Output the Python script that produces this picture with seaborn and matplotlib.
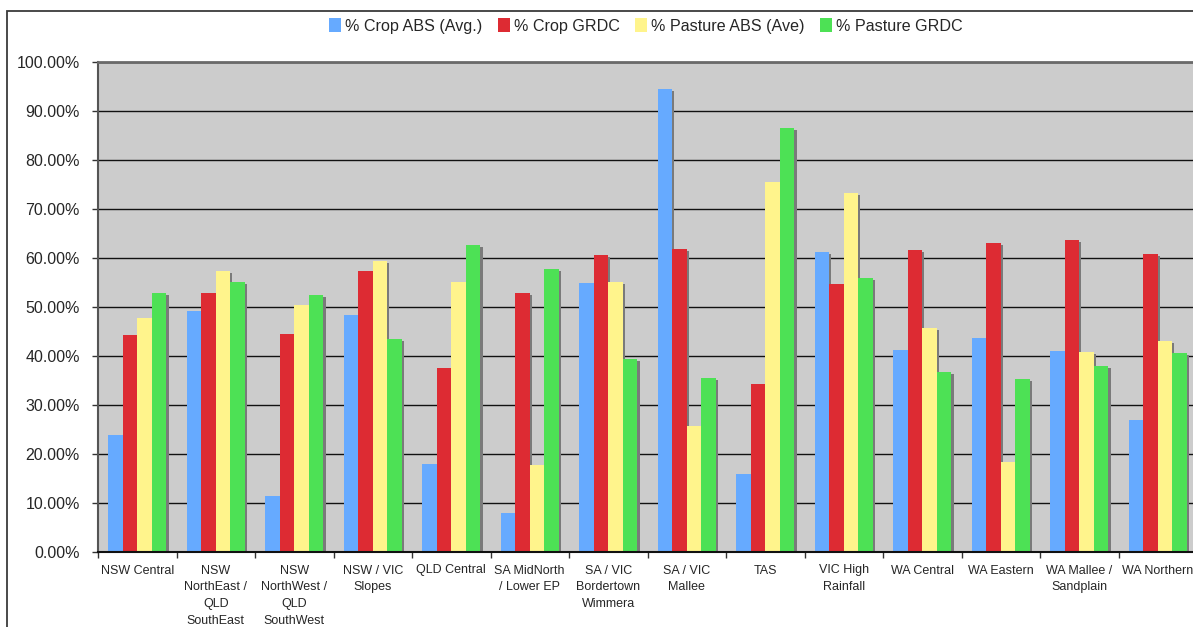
import matplotlib
matplotlib.use("Agg")
import matplotlib.pyplot as plt
import matplotlib.patheffects as pe
from matplotlib.patches import Rectangle
from matplotlib.ticker import FixedLocator, FuncFormatter
import numpy as np
import pandas as pd
import seaborn as sns

# Regions (category labels, wrapped as on the axis)
regions = [
    "NSW Central",
    "NSW\nNorthEast /\nQLD\nSouthEast",
    "NSW\nNorthWest /\nQLD\nSouthWest",
    "NSW / VIC\nSlopes",
    "QLD Central",
    "SA MidNorth\n/ Lower EP",
    "SA / VIC\nBordertown\nWimmera",
    "SA / VIC\nMallee",
    "TAS",
    "VIC High\nRainfall",
    "WA Central",
    "WA Eastern",
    "WA Mallee /\nSandplain",
    "WA Northern",
]

# Percentages per region
crop_abs = [23.8, 49.2, 11.4, 48.4, 18.0, 8.0, 54.8, 94.5, 15.9, 61.2, 41.2, 43.7, 41.0, 26.9]
crop_grdc = [44.3, 52.9, 44.5, 57.3, 37.6, 52.9, 60.6, 61.8, 34.3, 54.7, 61.6, 63.1, 63.7, 60.8]
pasture_abs = [47.8, 57.3, 50.4, 59.4, 55.1, 17.8, 55.1, 25.7, 75.5, 73.3, 45.7, 18.4, 40.8, 43.1]
pasture_grdc = [52.9, 55.1, 52.4, 43.5, 62.7, 57.8, 39.4, 35.5, 86.5, 55.9, 36.7, 35.3, 38.0, 40.6]

series_names = ["% Crop ABS (Avg.)", "% Crop GRDC", "% Pasture ABS (Ave)", "% Pasture GRDC"]
series_colors = ["#66AAFF", "#DD2B33", "#FFF48C", "#4DE155"]
y_ticks = [0, 10, 20, 30, 40, 50, 60, 70, 80, 90, 100]

df = pd.DataFrame({
    "region": regions * 4,
    "series": np.repeat(series_names, len(regions)),
    "value": crop_abs + crop_grdc + pasture_abs + pasture_grdc,
})

sns.set_style("white")
plt.rcParams["font.family"] = ["Liberation Sans", "DejaVu Sans"]

W, H = 1193, 627
fig = plt.figure(figsize=(W / 100, H / 100), dpi=100)
fig.patch.set_facecolor("white")

# chart frame
fig.patches.append(Rectangle((7 / W, -0.1), 1.2, 1 - 11 / H + 0.1,
                             transform=fig.transFigure, fill=False,
                             edgecolor="#3a3a3a", linewidth=1.3))

ax = fig.add_axes([98 / W, 1 - 552 / H, 1099 / W, 490 / H])
ax.set_facecolor("#CCCCCC")

sns.barplot(data=df, x="region", y="value", hue="series",
            hue_order=series_names, palette=series_colors,
            width=0.74, saturation=1, errorbar=None, linewidth=0, ax=ax)

for p in ax.patches:
    p.set_path_effects([pe.SimplePatchShadow(offset=(1.6, -1.4),
                                             shadow_rgbFace="#7a7a7a", alpha=1),
                        pe.Normal()])

ax.set_xlim(-0.5, len(regions) - 0.5)
ax.set_ylim(0, 100)
ax.set_xlabel("")
ax.set_ylabel("")

ax.yaxis.set_major_locator(FixedLocator(y_ticks))
ax.yaxis.set_major_formatter(FuncFormatter(lambda v, _: f"{v:.2f}%"))
ax.yaxis.grid(True, color="#111111", linewidth=1.0)
ax.set_axisbelow(True)

ax.tick_params(axis="y", direction="out", length=4, width=1, color="#333333",
               pad=9, labelsize=11.5, left=True)
ax.tick_params(axis="x", which="major", length=0, pad=9, labelsize=9)
ax.set_xticks(np.arange(-0.5, len(regions), 1.0), minor=True)
ax.tick_params(axis="x", which="minor", direction="out", length=4, width=1,
               color="#333333", bottom=True)
for lbl in ax.get_xticklabels():
    lbl.set_linespacing(1.55)
    lbl.set_verticalalignment("top")

for side in ["top", "left", "bottom", "right"]:
    ax.spines[side].set_visible(True)
ax.spines["top"].set_color("#6a6a6a")
ax.spines["top"].set_linewidth(2)
ax.spines["left"].set_color("#555555")
ax.spines["left"].set_linewidth(1.5)
ax.spines["bottom"].set_color("#111111")
ax.spines["bottom"].set_linewidth(1.5)
ax.spines["right"].set_visible(False)

sns.move_legend(ax, "center", bbox_to_anchor=(0.4986, 1.073), ncol=4,
                frameon=False, title=None, fontsize=11.6,
                handlelength=0.75, handleheight=0.95, handletextpad=0.25,
                columnspacing=0.95)

fig.savefig("out.png", dpi=100)
